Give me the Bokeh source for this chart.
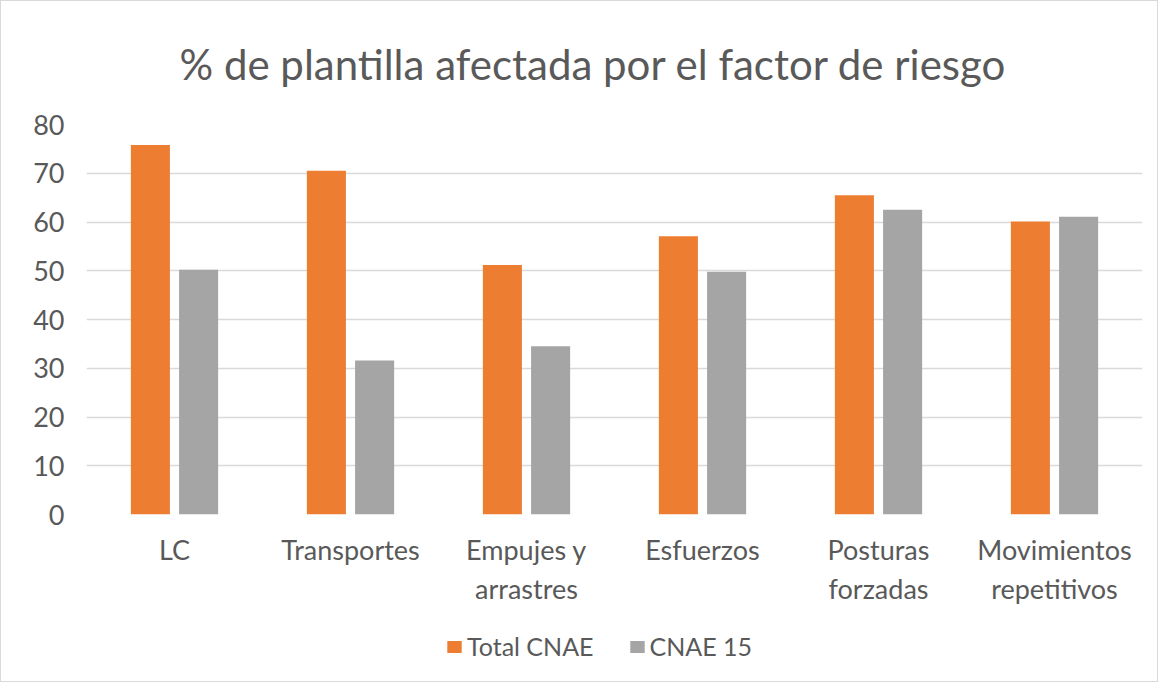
from bokeh.plotting import figure
from bokeh.layouts import column
from bokeh.models import ColumnDataSource, FactorRange, Range1d, Legend, LegendItem, FixedTicker
from bokeh.transform import dodge
from bokeh.embed import file_html
from bokeh.resources import INLINE

categories = ["LC", "Transportes", "Empujes y\narrastres", "Esfuerzos", "Posturas\nforzadas", "Movimientos\nrepetitivos"]
total_cnae = [75.8, 70.5, 51.2, 57.1, 65.5, 60.1]
cnae_15 = [50.2, 31.6, 34.5, 49.8, 62.5, 61.1]
series_names = ["Total CNAE", "CNAE 15"]
series_colors = ["#ED7D31", "#A5A5A5"]
y_ticks = [0, 10, 20, 30, 40, 50, 60, 70, 80]

FONT = "Lato"
TXT = "#595959"

src = ColumnDataSource(dict(cat=categories, total=total_cnae, c15=cnae_15))

p = figure(width=1156, height=616, x_range=FactorRange(*categories, range_padding=0),
           y_range=Range1d(0, 80), output_backend="svg", toolbar_location=None,
           min_border_left=85, min_border_right=15, min_border_top=122, min_border_bottom=103)

p.vbar(x=dodge("cat", -0.137, range=p.x_range), top="total", width=0.222, source=src,
       fill_color=series_colors[0], line_color=None)
p.vbar(x=dodge("cat", 0.137, range=p.x_range), top="c15", width=0.222, source=src,
       fill_color=series_colors[1], line_color=None)

p.title.text = "% de plantilla afectada por el factor de riesgo"
p.title.align = "left"
p.title.offset = 93
p.title.text_font = FONT
p.title.text_font_size = "42px"
p.title.text_font_style = "normal"
p.title.text_color = TXT
p.title.standoff = 71

p.outline_line_color = None
p.xgrid.grid_line_color = None
p.ygrid.grid_line_color = "#d9d9d9"
p.ygrid.grid_line_width = 1.5
p.yaxis.ticker = FixedTicker(ticks=y_ticks)

for ax in (p.xaxis[0], p.yaxis[0]):
    ax.axis_line_color = None
    ax.major_tick_line_color = None
    ax.minor_tick_line_color = None
    ax.major_label_text_font = FONT
    ax.major_label_text_font_size = "27px"
    ax.major_label_text_color = TXT
p.yaxis.major_label_standoff = 16
p.xaxis.major_label_standoff = 12

# legend strip below the chart (zero-height keys, only their legend swatches show)
lg = figure(width=1156, height=64, output_backend="svg", toolbar_location=None,
            x_range=FactorRange(*series_names), y_range=Range1d(0, 1),
            min_border=0, min_border_left=0, min_border_right=0, min_border_top=0, min_border_bottom=0)
lg.axis.visible = False
lg.grid.visible = False
lg.outline_line_color = None
k1 = lg.vbar(x="name", top="top", width=0.1, source=ColumnDataSource(dict(name=series_names[:1], top=[0])),
             fill_color=series_colors[0], line_color=None)
k2 = lg.vbar(x="name", top="top", width=0.1, source=ColumnDataSource(dict(name=series_names[1:], top=[0])),
             fill_color=series_colors[1], line_color=None)
legend = Legend(items=[LegendItem(label=series_names[0], renderers=[k1]),
                       LegendItem(label=series_names[1], renderers=[k2])],
                orientation="horizontal", location=(359, 20),
                label_text_font=FONT, label_text_font_size="25px", label_text_color=TXT,
                glyph_width=18, glyph_height=15, spacing=34, label_standoff=4,
                margin=0, padding=4,
                border_line_color=None, background_fill_alpha=0)
lg.add_layout(legend, "center")

layout = column(p, lg, spacing=0, styles={"border": "1px solid #d9d9d9"})

open("out.html", "w").write(file_html(layout, INLINE))
